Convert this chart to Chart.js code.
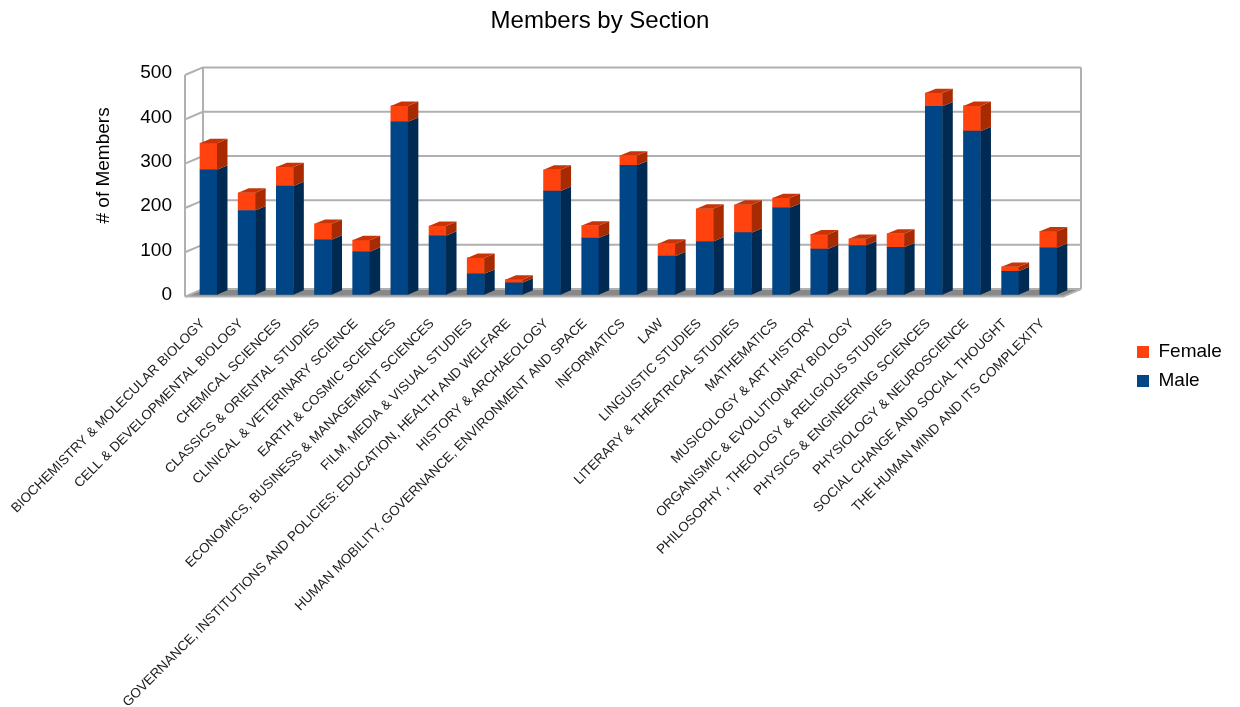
<!DOCTYPE html>
<html>
<head>
<meta charset="utf-8">
<title>Members by Section</title>
<script src="https://cdn.jsdelivr.net/npm/chart.js@4.4.1/dist/chart.umd.min.js"></script>
<style>
  html, body { margin: 0; padding: 0; background: #fff; }
  #wrap { width: 1240px; height: 707px; position: relative; }
</style>
</head>
<body>
<div id="wrap"><canvas id="membersChart"></canvas></div>
<script>
// data
const sections = [
    'BIOCHEMISTRY & MOLECULAR BIOLOGY',
    'CELL & DEVELOPMENTAL BIOLOGY',
    'CHEMICAL SCIENCES',
    'CLASSICS & ORIENTAL STUDIES',
    'CLINICAL & VETERINARY SCIENCE',
    'EARTH & COSMIC SCIENCES',
    'ECONOMICS, BUSINESS & MANAGEMENT SCIENCES',
    'FILM, MEDIA & VISUAL STUDIES',
    'GOVERNANCE, INSTITUTIONS AND POLICIES: EDUCATION, HEALTH AND WELFARE',
    'HISTORY & ARCHAEOLOGY',
    'HUMAN MOBILITY, GOVERNANCE, ENVIRONMENT AND SPACE',
    'INFORMATICS',
    'LAW',
    'LINGUISTIC STUDIES',
    'LITERARY & THEATRICAL STUDIES',
    'MATHEMATICS',
    'MUSICOLOGY & ART HISTORY',
    'ORGANISMIC & EVOLUTIONARY BIOLOGY',
    'PHILOSOPHY , THEOLOGY & RELIGIOUS STUDIES',
    'PHYSICS & ENGINEERING SCIENCES',
    'PHYSIOLOGY & NEUROSCIENCE',
    'SOCIAL CHANGE AND SOCIAL THOUGHT',
    'THE HUMAN MIND AND ITS COMPLEXITY'
];
const maleMembers   = [282, 190, 245, 124, 97, 390, 133, 47, 27, 234, 128, 292, 87, 120, 140, 196, 103, 111, 107, 425, 369, 53, 106];
const femaleMembers = [ 60,  40,  43,  36, 26,  36,  22, 36,  7,  48,  28,  22, 28,  74,  63,  22,  33,  15,  31,  30,  57, 10,  37];
const yTicks = [0, 100, 200, 300, 400, 500];

// 3D offsets (px): bar depth, and where the walls sit relative to the bar fronts
const BAR_DX = 10.5, BAR_DY = -4.4;
const FRONT_DX = -4.4, FRONT_DY = 1.9;
const BACK_DX = 13.6, BACK_DY = -5.7;

const FONT = '"Liberation Sans", Arial, sans-serif';

function poly(ctx, pts) {
    ctx.beginPath();
    ctx.moveTo(pts[0][0], pts[0][1]);
    for (let i = 1; i < pts.length; i++) ctx.lineTo(pts[i][0], pts[i][1]);
    ctx.closePath();
    ctx.fill();
}

const box3d = {
    id: 'box3d',
    afterLayout(chart) {
        // legend sits low on the right, below the middle of the plot
        const lg = chart.legend;
        if (!lg) return;
        lg.left = 1127;
        lg.right = 1240;
        lg.top = 332.5;
        lg.bottom = 452.5;
        lg.height = 120;
    },
    beforeDatasetsDraw(chart) {
        const {ctx, chartArea: a, scales: {y}} = chart;
        const L = a.left, R = a.right;
        const y0 = y.getPixelForValue(yTicks[0]);
        const yMax = y.getPixelForValue(yTicks[yTicks.length - 1]);
        ctx.save();

        // floor
        ctx.fillStyle = '#888888';
        poly(ctx, [[L + FRONT_DX, y0 + FRONT_DY], [R + FRONT_DX, y0 + FRONT_DY],
                   [R + BACK_DX, y0 + BACK_DY], [L + BACK_DX, y0 + BACK_DY]]);

        // grid lines on side + back wall
        ctx.strokeStyle = '#b0b0b0';
        ctx.lineWidth = 2;
        ctx.lineJoin = 'round';
        yTicks.forEach(v => {
            const py = y.getPixelForValue(v);
            ctx.beginPath();
            ctx.moveTo(L + FRONT_DX, py + FRONT_DY);
            ctx.lineTo(L + BACK_DX, py + BACK_DY);
            ctx.lineTo(R + BACK_DX, py + BACK_DY);
            ctx.stroke();
        });

        // wall edges
        ctx.beginPath();
        ctx.moveTo(L + FRONT_DX, y0 + FRONT_DY);
        ctx.lineTo(L + FRONT_DX, yMax + FRONT_DY);
        ctx.moveTo(L + BACK_DX, y0 + BACK_DY);
        ctx.lineTo(L + BACK_DX, yMax + BACK_DY);
        ctx.moveTo(R + BACK_DX, y0 + BACK_DY);
        ctx.lineTo(R + BACK_DX, yMax + BACK_DY);
        ctx.moveTo(L + FRONT_DX, y0 + FRONT_DY);
        ctx.lineTo(R + FRONT_DX, y0 + FRONT_DY);
        ctx.lineTo(R + BACK_DX, y0 + BACK_DY);
        ctx.stroke();
        ctx.restore();
    },
    afterDatasetsDraw(chart) {
        const ctx = chart.ctx;
        ctx.save();
        chart.data.datasets.forEach((ds, i) => {
            const meta = chart.getDatasetMeta(i);
            meta.data.forEach(bar => {
                const {x, y, base, width} = bar.getProps(['x', 'y', 'base', 'width'], true);
                const l = x - width / 2, r = x + width / 2;
                ctx.fillStyle = ds.sideColor;
                poly(ctx, [[r, y], [r + BAR_DX, y + BAR_DY], [r + BAR_DX, base + BAR_DY], [r, base]]);
                if (ds.topColor) {
                    ctx.fillStyle = ds.topColor;
                    poly(ctx, [[l, y], [l + BAR_DX, y + BAR_DY], [r + BAR_DX, y + BAR_DY], [r, y]]);
                }
            });
        });
        ctx.restore();
    }
};

const ctx = document.getElementById('membersChart').getContext('2d');
new Chart(ctx, {
    type: 'bar',
    data: {
        labels: sections,
        datasets: [
            {
                label: 'Male',
                data: maleMembers,
                backgroundColor: '#004586',
                sideColor: '#002a52',
                barThickness: 17,
                borderWidth: 0
            },
            {
                label: 'Female',
                data: femaleMembers,
                backgroundColor: '#ff420e',
                sideColor: '#a82a00',
                topColor: '#c93406',
                barThickness: 17,
                borderWidth: 0
            }
        ]
    },
    options: {
        responsive: true,
        maintainAspectRatio: false,
        animation: false,
        events: [],
        layout: {
            padding: { left: 90, right: 130, top: 0, bottom: 0 }
        },
        plugins: {
            title: {
                display: true,
                text: 'Members by Section',
                color: '#000',
                font: { family: FONT, size: 24, weight: 'normal' },
                padding: { top: 7, bottom: 37.3 }
            },
            legend: {
                position: 'right',
                align: 'start',
                reverse: true,
                maxWidth: 42.6,
                labels: {
                    color: '#000',
                    font: { family: FONT, size: 19 },
                    boxWidth: 12,
                    boxHeight: 12,
                    padding: 10
                }
            },
            tooltip: { enabled: false }
        },
        scales: {
            x: {
                stacked: true,
                grid: { display: false, drawTicks: false },
                border: { display: false },
                ticks: {
                    autoSkip: false,
                    minRotation: 45,
                    maxRotation: 45,
                    padding: 21,
                    labelOffset: -5.5,
                    color: '#222',
                    font: { family: FONT, size: 13.5 }
                },
                afterFit: (scale) => {
                    // long rotated labels must not push the plot to the right
                    scale.height = 412.3;
                    scale.paddingLeft = 0;
                    scale.paddingRight = 0;
                }
            },
            y: {
                stacked: true,
                min: 0,
                max: 500,
                grid: { display: false, drawTicks: false },
                border: { display: false },
                ticks: {
                    stepSize: 100,
                    padding: 17.4,
                    color: '#000',
                    font: { family: FONT, size: 19 }
                },
                title: {
                    display: true,
                    text: '       # of Members',
                    color: '#000',
                    font: { family: FONT, size: 19 },
                    padding: { top: 2.6, bottom: 0 }
                },
                afterFit: (scale) => { scale.width = 99.4; }
            }
        }
    },
    plugins: [box3d]
});
</script>
</body>
</html>
